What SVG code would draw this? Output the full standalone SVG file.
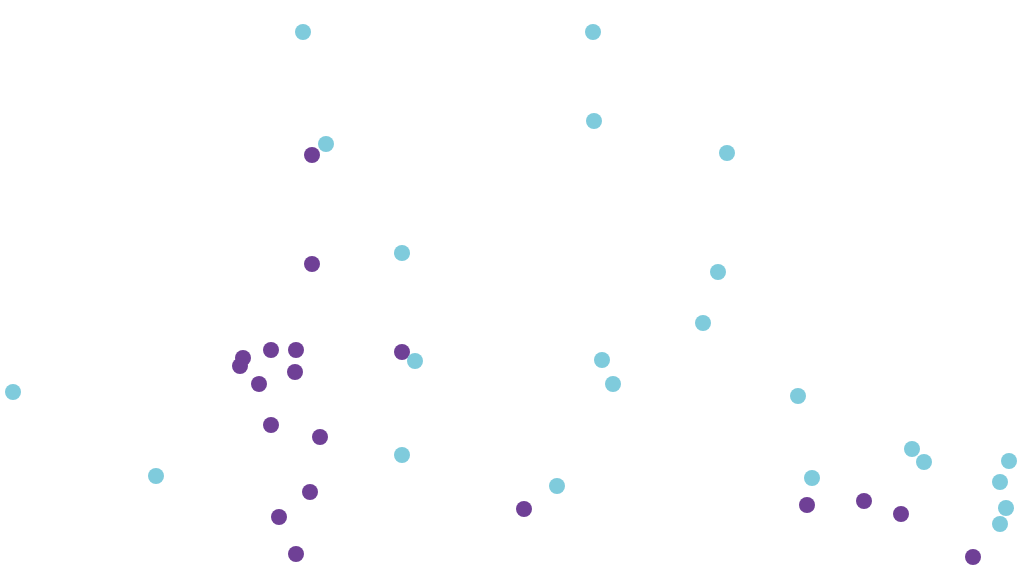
<svg xmlns="http://www.w3.org/2000/svg" width="1024" height="576" viewBox="0 0 1024 576">
<style>
.p{fill:#6f4096}
.c{fill:#7fcbdc}
</style>
<rect width="1024" height="576" fill="#ffffff"/>
<g id="purple">
<circle class="p" cx="312" cy="155" r="8"/>
<circle class="p" cx="312" cy="264" r="8"/>
<circle class="p" cx="243" cy="358" r="8"/>
<circle class="p" cx="240" cy="366" r="8"/>
<circle class="p" cx="271" cy="350" r="8"/>
<circle class="p" cx="296" cy="350" r="8"/>
<circle class="p" cx="295" cy="372" r="8"/>
<circle class="p" cx="259" cy="384" r="8"/>
<circle class="p" cx="402" cy="352" r="8"/>
<circle class="p" cx="271" cy="425" r="8"/>
<circle class="p" cx="320" cy="437" r="8"/>
<circle class="p" cx="310" cy="492" r="8"/>
<circle class="p" cx="279" cy="517" r="8"/>
<circle class="p" cx="296" cy="554" r="8"/>
<circle class="p" cx="524" cy="509" r="8"/>
<circle class="p" cx="807" cy="505" r="8"/>
<circle class="p" cx="864" cy="501" r="8"/>
<circle class="p" cx="901" cy="514" r="8"/>
<circle class="p" cx="973" cy="557" r="8"/>
</g>
<g id="cyan">
<circle class="c" cx="303" cy="32" r="8"/>
<circle class="c" cx="593" cy="32" r="8"/>
<circle class="c" cx="594" cy="121" r="8"/>
<circle class="c" cx="326" cy="144" r="8"/>
<circle class="c" cx="727" cy="153" r="8"/>
<circle class="c" cx="402" cy="253" r="8"/>
<circle class="c" cx="718" cy="272" r="8"/>
<circle class="c" cx="703" cy="323" r="8"/>
<circle class="c" cx="415" cy="361" r="8"/>
<circle class="c" cx="602" cy="360" r="8"/>
<circle class="c" cx="613" cy="384" r="8"/>
<circle class="c" cx="13" cy="392" r="8"/>
<circle class="c" cx="798" cy="396" r="8"/>
<circle class="c" cx="402" cy="455" r="8"/>
<circle class="c" cx="912" cy="449" r="8"/>
<circle class="c" cx="924" cy="462" r="8"/>
<circle class="c" cx="1009" cy="461" r="8"/>
<circle class="c" cx="156" cy="476" r="8"/>
<circle class="c" cx="812" cy="478" r="8"/>
<circle class="c" cx="1000" cy="482" r="8"/>
<circle class="c" cx="557" cy="486" r="8"/>
<circle class="c" cx="1006" cy="508" r="8"/>
<circle class="c" cx="1000" cy="524" r="8"/>
</g>
</svg>
